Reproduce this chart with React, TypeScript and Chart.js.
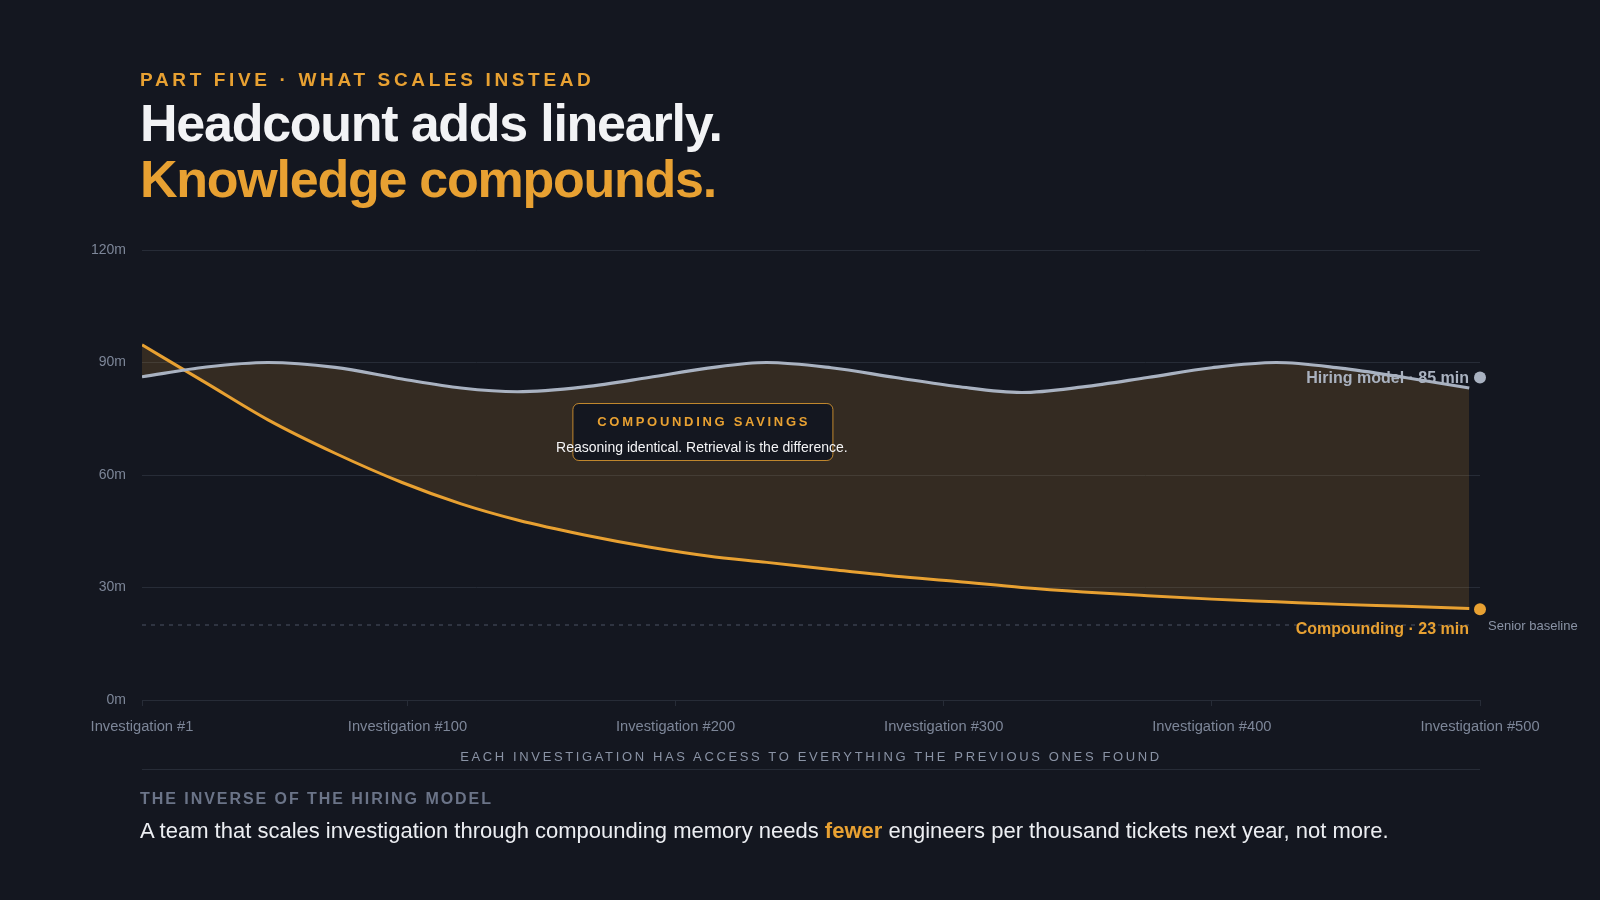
import React, { useEffect, useRef } from 'react';
import { Chart, registerables } from 'chart.js';

Chart.register(...registerables);

// ---------- data ----------
const INVESTIGATIONS = [1, 25, 48, 73, 98, 120, 141, 166, 190, 212, 234, 258, 282, 305, 329, 352, 376, 400, 424, 448, 472, 496];
const HIRING_MINUTES = [86.2, 88.8, 90.0, 88.7, 85.6, 83.2, 82.2, 83.5, 86.0, 88.5, 90.0, 88.6, 86.0, 83.6, 82.0, 83.5, 86.0, 88.6, 90.0, 88.5, 86.0, 83.2];
const COMPOUNDING_MINUTES = [94.7, 84.5, 74.7, 65.8, 58.0, 52.3, 48.0, 44.0, 40.8, 38.4, 36.7, 34.8, 33.0, 31.6, 30.0, 28.8, 27.8, 26.9, 26.2, 25.5, 25.0, 24.4];
const SENIOR_BASELINE = 20;
const END_INVESTIGATION = 500;
const HIRING_END = 86;
const COMPOUNDING_END = 24.2;
const X_TICKS = [1, 100, 200, 300, 400, 500];
const Y_TICKS = [0, 30, 60, 90, 120];
const HIRING_LABEL = 'Hiring model · 85 min';
const COMPOUNDING_LABEL = 'Compounding · 23 min';
const SAVINGS_TITLE = 'COMPOUNDING SAVINGS';
const SAVINGS_TEXT = 'Reasoning identical. Retrieval is the difference.';
const SAVINGS_ANCHOR_X = 210;
const SAVINGS_ANCHOR_Y = 71.6;

// ---------- styles ----------
const FONT = '"Liberation Sans", Arial, Helvetica, sans-serif';
const BG = '#141720';
const ORANGE = '#e8a132';
const GRAY_LINE = '#a9b2c1';
const GRID = '#272c37';
const MUTED = '#7d8698';
const WHITE = '#f2f3f5';

const annotationPlugin = {
  id: 'slideAnnotations',
  afterDatasetsDraw(chart: any) {
    const { ctx, scales, chartArea } = chart;
    const x = scales.x;
    const y = scales.y;
    ctx.save();

    // Senior baseline label
    ctx.font = `13px ${FONT}`;
    ctx.fillStyle = '#8a93a5';
    ctx.textAlign = 'left';
    ctx.textBaseline = 'middle';
    ctx.fillText('Senior baseline', chartArea.right + 8, y.getPixelForValue(SENIOR_BASELINE) + 1.5);

    // end labels
    const ex = x.getPixelForValue(END_INVESTIGATION) - 11;
    ctx.font = `bold 16px ${FONT}`;
    ctx.textAlign = 'right';
    ctx.fillStyle = '#aab2c0';
    ctx.fillText(HIRING_LABEL, ex, y.getPixelForValue(HIRING_END) + 1.5);
    ctx.fillStyle = ORANGE;
    ctx.fillText(COMPOUNDING_LABEL, ex, y.getPixelForValue(COMPOUNDING_END) + 20);

    // savings box
    const cx = x.getPixelForValue(SAVINGS_ANCHOR_X);
    const cy = y.getPixelForValue(SAVINGS_ANCHOR_Y);
    const w = 260;
    const h = 57;
    const bx = cx - w / 2;
    const by = cy - h / 2;
    ctx.beginPath();
    (ctx as any).roundRect(bx + 0.5, by + 0.5, w, h, 6);
    ctx.fillStyle = BG;
    ctx.fill();
    ctx.strokeStyle = 'rgba(232,161,50,0.8)';
    ctx.lineWidth = 1;
    ctx.stroke();

    ctx.textAlign = 'center';
    ctx.textBaseline = 'middle';
    ctx.font = `bold 13px ${FONT}`;
    ctx.fillStyle = ORANGE;
    (ctx as any).letterSpacing = '2.7px';
    ctx.fillText(SAVINGS_TITLE, cx + 1.3, by + 19);
    (ctx as any).letterSpacing = '0px';
    ctx.font = `14px ${FONT}`;
    ctx.fillStyle = '#f4f4f6';
    ctx.fillText(SAVINGS_TEXT, cx - 0.5, by + 45);
    ctx.restore();
  },
};

export default function App() {
  const ref = useRef<HTMLCanvasElement>(null);

  useEffect(() => {
    if (!ref.current) return;
    const pts = (ys: number[]) => INVESTIGATIONS.map((v, i) => ({ x: v, y: ys[i] }));
    const chart = new Chart(ref.current, {
      type: 'line',
      data: {
        datasets: [
          {
            label: 'Hiring model',
            data: pts(HIRING_MINUTES),
            borderColor: GRAY_LINE,
            borderWidth: 3.2,
            pointRadius: 0,
            cubicInterpolationMode: 'monotone',
            fill: '+1',
            backgroundColor: 'rgba(232,161,50,0.15)',
          },
          {
            label: 'Compounding',
            data: pts(COMPOUNDING_MINUTES),
            borderColor: ORANGE,
            borderWidth: 3,
            pointRadius: 0,
            cubicInterpolationMode: 'monotone',
            fill: false,
          },
          {
            label: 'Senior baseline',
            data: [
              { x: INVESTIGATIONS[0], y: SENIOR_BASELINE },
              { x: INVESTIGATIONS[INVESTIGATIONS.length - 1], y: SENIOR_BASELINE },
            ],
            borderColor: '#4b5262',
            borderWidth: 1,
            borderDash: [4, 5],
            pointRadius: 0,
            fill: false,
          },
          {
            label: 'Hiring end',
            data: [{ x: END_INVESTIGATION, y: HIRING_END }],
            showLine: false,
            pointRadius: 6,
            pointBorderWidth: 0,
            pointBackgroundColor: GRAY_LINE,
            clip: false,
          } as any,
          {
            label: 'Compounding end',
            data: [{ x: END_INVESTIGATION, y: COMPOUNDING_END }],
            showLine: false,
            pointRadius: 6,
            pointBorderWidth: 0,
            pointBackgroundColor: ORANGE,
            clip: false,
          } as any,
        ],
      },
      options: {
        responsive: false,
        animation: false,
        events: [],
        layout: { padding: { top: 250, right: 120, bottom: 125, left: 0 } },
        plugins: {
          legend: { display: false },
          tooltip: { enabled: false },
        },
        scales: {
          x: {
            type: 'linear',
            min: 1,
            max: 500,
            afterBuildTicks: (s: any) => {
              s.ticks = X_TICKS.map((v) => ({ value: v }));
            },
            afterFit: (s: any) => {
              s.height = 75;
            },
            ticks: {
              callback: (v: any) => 'Investigation #' + v,
              color: MUTED,
              font: { family: FONT, size: 14.7 },
              padding: 12,
              maxRotation: 0,
              autoSkip: false,
            },
            grid: { drawOnChartArea: false, drawTicks: true, tickLength: 6, color: GRID },
            border: { color: GRID },
          },
          y: {
            min: 0,
            max: 120,
            afterBuildTicks: (s: any) => {
              s.ticks = Y_TICKS.map((v) => ({ value: v }));
            },
            afterFit: (s: any) => {
              s.width = 142;
            },
            ticks: {
              callback: (v: any) => v + 'm',
              color: MUTED,
              font: { family: FONT, size: 14 },
              padding: 16,
            },
            grid: { color: GRID, drawTicks: false },
            border: { display: false },
          },
        },
      },
      plugins: [annotationPlugin],
    } as any);
    return () => chart.destroy();
  }, []);

  return (
    <div
      style={{
        position: 'fixed',
        left: 0,
        top: 0,
        width: 1600,
        height: 900,
        background: BG,
        overflow: 'hidden',
        fontFamily: FONT,
      }}
    >
      <canvas ref={ref} width={1600} height={900} style={{ position: 'absolute', left: 0, top: 0 }} />
      <div
        style={{
          position: 'absolute',
          left: 140,
          top: 69.6,
          fontSize: 19,
          lineHeight: '19px',
          fontWeight: 700,
          letterSpacing: '3.65px',
          color: ORANGE,
          whiteSpace: 'nowrap',
        }}
      >
        PART FIVE · WHAT SCALES INSTEAD
      </div>
      <div
        style={{
          position: 'absolute',
          left: 140,
          top: 95.3,
          fontSize: 52,
          lineHeight: '56px',
          fontWeight: 700,
          letterSpacing: '-1.25px',
          whiteSpace: 'nowrap',
        }}
      >
        <div style={{ color: WHITE }}>Headcount adds linearly.</div>
        <div style={{ color: ORANGE }}>Knowledge compounds.</div>
      </div>
      <div
        style={{
          position: 'absolute',
          left: 142,
          width: 1338,
          top: 749.6,
          fontSize: 13,
          lineHeight: '13px',
          letterSpacing: '2.63px',
          color: '#8a93a5',
          textAlign: 'center',
          whiteSpace: 'nowrap',
        }}
      >
        EACH INVESTIGATION HAS ACCESS TO EVERYTHING THE PREVIOUS ONES FOUND
      </div>
      <div style={{ position: 'absolute', left: 142, width: 1338, top: 769, height: 1, background: GRID }} />
      <div
        style={{
          position: 'absolute',
          left: 140,
          top: 791,
          fontSize: 16,
          lineHeight: '16px',
          fontWeight: 700,
          letterSpacing: '1.95px',
          color: '#6b7488',
          whiteSpace: 'nowrap',
        }}
      >
        THE INVERSE OF THE HIRING MODEL
      </div>
      <div
        style={{
          position: 'absolute',
          left: 140,
          top: 819.7,
          fontSize: 22,
          lineHeight: '22px',
          color: '#eceef2',
          whiteSpace: 'nowrap',
        }}
      >
        A team that scales investigation through compounding memory needs{' '}
        <span style={{ color: ORANGE, fontWeight: 700 }}>fewer</span> engineers per thousand tickets next year, not more.
      </div>
    </div>
  );
}
